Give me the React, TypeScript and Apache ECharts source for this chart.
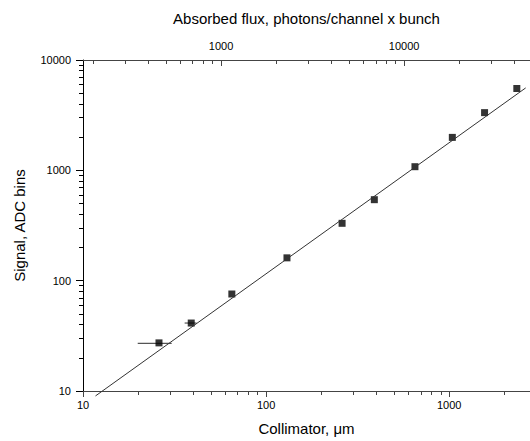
import React, { useEffect, useRef } from "react";
import * as echarts from "echarts";

// Measured points
const COLLIMATOR_UM = [26, 39, 65, 130, 260, 390, 650, 1040, 1560, 2340];
const SIGNAL_ADC = [27.3, 41.3, 75.7, 161, 331, 542, 1079, 1989, 3334, 5520];

// Horizontal error bars (first two points)
const ERR_X = [26, 39];
const ERR_Y = [27.0, 41.3];
const ERR_LOW = [19.9, 35.9];
const ERR_HIGH = [30.5, 41.7];

// Fit line end points
const FIT_X = [11.7, 2616];
const FIT_Y = [9.02, 5585];

// Axis ranges
const X_MIN = 10;
const X_MAX = 2762;
const Y_MIN = 10;
const Y_MAX = 10000;
const FLUX_PER_UM = 17.63;

// Minor tick values
const BOTTOM_MINOR = [20, 30, 40, 50, 60, 70, 80, 90, 200, 300, 400, 500, 600, 700, 800, 900, 2000];
const TOP_MINOR = [200, 300, 400, 500, 600, 700, 800, 900, 2000, 3000, 4000, 5000, 6000, 7000, 8000, 9000, 20000, 30000, 40000];
const LEFT_MINOR = [20, 30, 40, 50, 60, 70, 80, 90, 200, 300, 400, 500, 600, 700, 800, 900, 2000, 3000, 4000, 5000, 6000, 7000, 8000, 9000];

const FONT = "'Liberation Sans', Arial, sans-serif";
const HCOL = "#444";
const VCOL = "#000";

const powLabel = (v: number) => {
  const l = Math.log10(v);
  if (Math.abs(l - Math.round(l)) < 1e-6) return String(Math.round(Math.pow(10, Math.round(l))));
  return "";
};

// helper axis carrying only the minor ticks (log10 space, same extent as its log axis)
const minorAxis = (min: number, max: number, values: number[], position: string, inside: boolean, color: string) => ({
  type: "value",
  min: Math.log10(min),
  max: Math.log10(max),
  position,
  axisLine: { show: true, lineStyle: { color: "rgba(0,0,0,0)" } },
  axisLabel: { show: false },
  splitLine: { show: false },
  axisTick: {
    show: true,
    inside,
    length: 4,
    customValues: values.map((v) => Math.log10(v)),
    lineStyle: { color, width: 1 },
  },
});

export default function App() {
  const ref = useRef<HTMLDivElement>(null);
  useEffect(() => {
    if (!ref.current) return;
    const chart = echarts.init(ref.current, undefined, { renderer: "svg" });
    const labelStyle = { fontFamily: FONT, fontSize: 11, color: "#000" };
    const nameStyle = { fontFamily: FONT, fontSize: 15, color: "#000" };
    chart.setOption({
      animation: false,
      backgroundColor: "#fff",
      grid: { left: 83, right: 0, top: 60, bottom: 47, containLabel: false },
      xAxis: [
        {
          type: "log", logBase: 10, min: X_MIN, max: X_MAX, position: "bottom",
          name: "Collimator, μm", nameLocation: "middle", nameGap: 30, nameTextStyle: nameStyle,
          axisLine: { lineStyle: { color: HCOL, width: 1 } },
          axisTick: { show: true, length: 6, inside: false, lineStyle: { color: HCOL } },
          splitLine: { show: false },
          axisLabel: { ...labelStyle, margin: 8, formatter: powLabel, showMaxLabel: false },
        },
        {
          type: "log", logBase: 10, min: X_MIN * FLUX_PER_UM, max: X_MAX * FLUX_PER_UM, position: "top",
          name: "Absorbed flux, photons/channel x bunch", nameLocation: "middle", nameGap: 34, nameTextStyle: nameStyle,
          axisLine: { lineStyle: { color: HCOL, width: 1 } },
          axisTick: { show: true, length: 6, inside: true, lineStyle: { color: HCOL } },
          splitLine: { show: false },
          axisLabel: { ...labelStyle, margin: 9, formatter: powLabel, showMinLabel: false, showMaxLabel: false },
        },
        minorAxis(X_MIN, X_MAX, BOTTOM_MINOR, "bottom", false, HCOL),
        minorAxis(X_MIN * FLUX_PER_UM, X_MAX * FLUX_PER_UM, TOP_MINOR, "top", true, HCOL),
      ],
      yAxis: [
        {
          type: "log", logBase: 10, min: Y_MIN, max: Y_MAX, position: "left",
          name: "Signal, ADC bins", nameLocation: "middle", nameGap: 56, nameTextStyle: nameStyle,
          axisLine: { lineStyle: { color: VCOL, width: 1 } },
          axisTick: { show: true, length: 7, inside: false, lineStyle: { color: VCOL } },
          splitLine: { show: false },
          axisLabel: { ...labelStyle, margin: 12, formatter: powLabel },
        },
        minorAxis(Y_MIN, Y_MAX, LEFT_MINOR, "left", false, VCOL),
      ],
      series: [
        {
          type: "line", xAxisIndex: 0, yAxisIndex: 0, clip: false, silent: true, symbol: "none",
          data: FIT_X.map((x, i) => [x, FIT_Y[i]]),
          lineStyle: { color: "#333", width: 1 },
        },
        {
          type: "custom", xAxisIndex: 0, yAxisIndex: 0, clip: false, silent: true,
          data: ERR_X.map((x, i) => [x, ERR_Y[i], ERR_LOW[i], ERR_HIGH[i]]),
          renderItem: (_p: any, api: any) => {
            const a = api.coord([api.value(2), api.value(1)]);
            const b = api.coord([api.value(3), api.value(1)]);
            return { type: "line", shape: { x1: a[0], y1: a[1], x2: b[0], y2: b[1] }, style: { stroke: "#555", lineWidth: 1.2 } };
          },
        },
        {
          type: "scatter", xAxisIndex: 0, yAxisIndex: 0, symbol: "rect", symbolSize: 7, silent: true,
          itemStyle: { color: "#000" },
          data: COLLIMATOR_UM.map((x, i) => [x, SIGNAL_ADC[i]]),
        },
      ],
    });
    return () => chart.dispose();
  }, []);
  return <div ref={ref} style={{ position: "fixed", left: 0, top: 0, width: 530, height: 441, background: "#fff" }} />;
}
